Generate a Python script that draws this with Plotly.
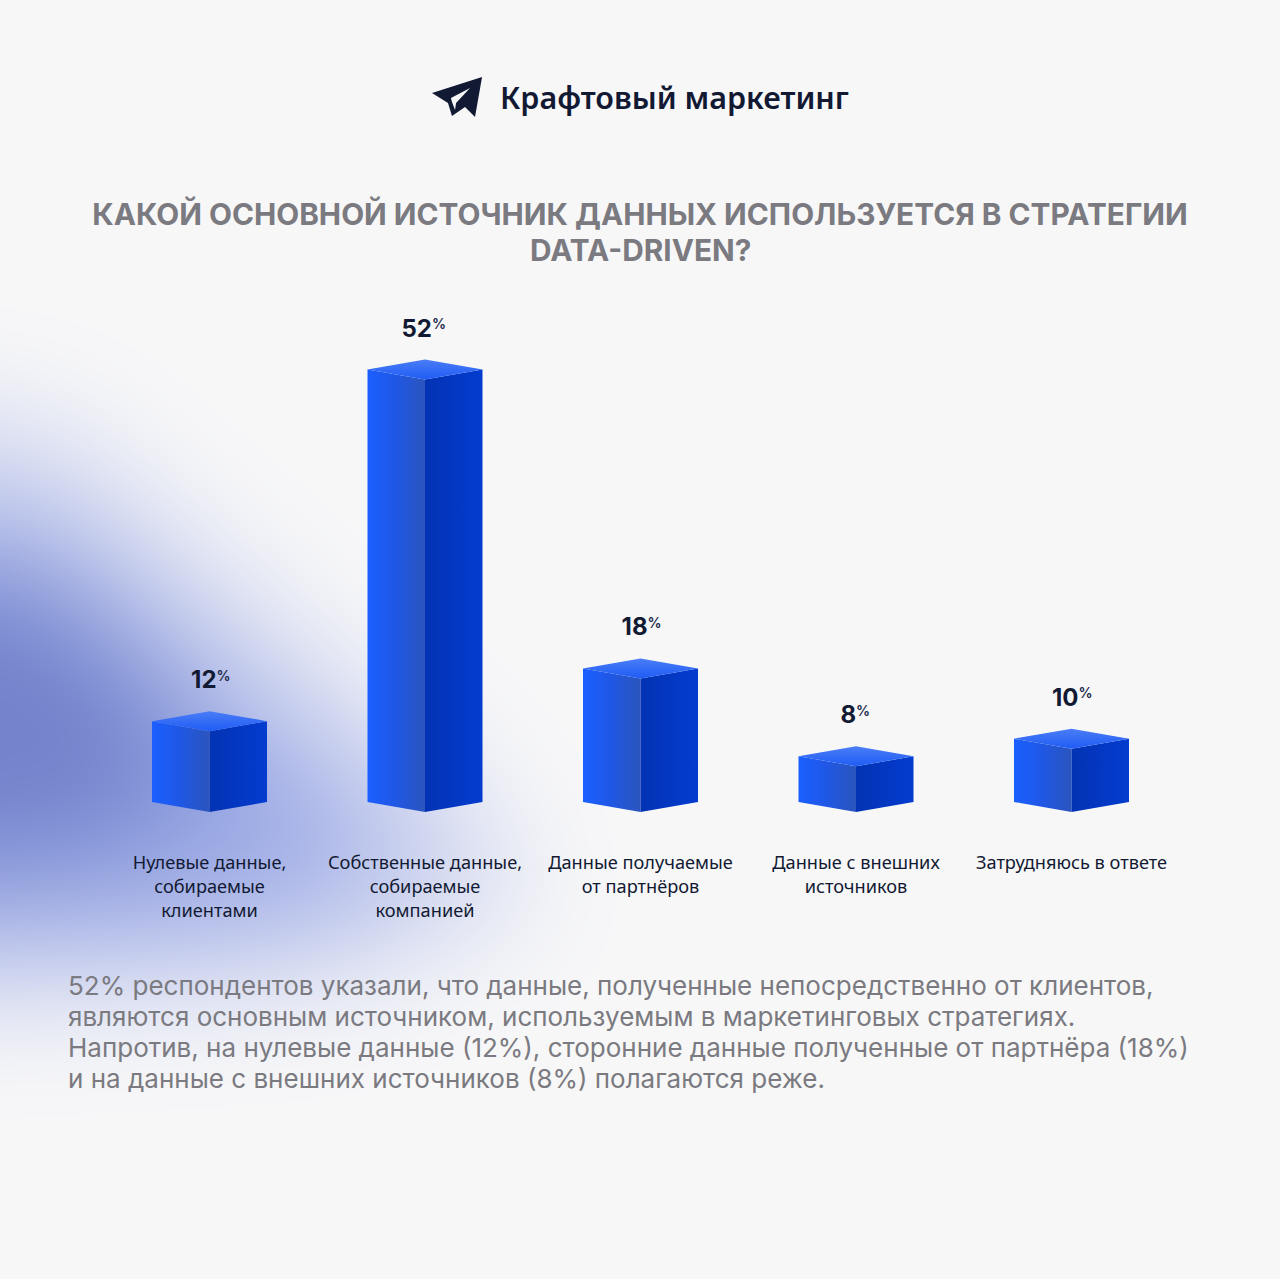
import base64
import plotly.graph_objects as go

# ---- data ----
categories = [
    "Нулевые данные,<br>собираемые<br>клиентами",
    "Собственные данные,<br>собираемые<br>компанией",
    "Данные получаемые<br>от партнёров",
    "Данные с внешних<br>источников",
    "Затрудняюсь в ответе",
]
values = [12, 52, 18, 8, 10]
title_lines = ["КАКОЙ ОСНОВНОЙ ИСТОЧНИК ДАННЫХ ИСПОЛЬЗУЕТСЯ В СТРАТЕГИИ", "DATA-DRIVEN?"]
brand = "Крафтовый маркетинг"
body_lines = [
    "52% респондентов указали, что данные, полученные непосредственно от клиентов,",
    "являются основным источником, используемым в маркетинговых стратегиях.",
    "Напротив, на нулевые данные (12%), сторонние данные полученные от партнёра (18%)",
    "и на данные с внешних источников (8%) полагаются реже.",
]

# ---- layout constants ----
W, H = 1280, 1279
BG = "#f7f7f8"
NAVY = "#121a33"
GRAY = "#7a7a80"
X0_PX, X_STEP = 209.5, 215.5      # pixel centre of first bar, spacing
Y_PX_PER_UNIT = 8.79
BASE_VALUE = 2.8                  # value at the bars' front bottom corner
FRONT_BOTTOM_PX = 812.0
PLOT_BOTTOM_PX = 842.0
HALF_W = 57.5 / X_STEP            # half bar width, x units
DEPTH = 10.0 / Y_PX_PER_UNIT      # perspective drop, y units


def px(x):
    return x / W


def py(y):
    return 1 - y / H


xr = [(0 - X0_PX) / X_STEP, (W - X0_PX) / X_STEP]
yr = [BASE_VALUE - (PLOT_BOTTOM_PX - FRONT_BOTTOM_PX) / Y_PX_PER_UNIT,
      BASE_VALUE + FRONT_BOTTOM_PX / Y_PX_PER_UNIT]

fig = go.Figure()

for i, v in enumerate(values):
    left, right = i - HALF_W, i + HALF_W
    bot = BASE_VALUE
    # left face
    fig.add_trace(go.Scatter(
        x=[left, i, i, left, left], y=[bot + DEPTH, bot, v, v + DEPTH, bot + DEPTH],
        mode="lines", line=dict(width=0), fill="toself", hoverinfo="skip", showlegend=False,
        fillgradient=dict(type="horizontal",
                          colorscale=[[0, "#1a5fff"], [0.45, "#1f58e8"], [1, "#2b55bd"]]),
    ))
    # right face
    fig.add_trace(go.Scatter(
        x=[i, right, right, i, i], y=[bot, bot + DEPTH, v + DEPTH, v, bot],
        mode="lines", line=dict(width=0), fill="toself", hoverinfo="skip", showlegend=False,
        fillgradient=dict(type="horizontal",
                          colorscale=[[0, "#0333b4"], [1, "#033ccf"]]),
    ))
    # top face
    fig.add_trace(go.Scatter(
        x=[left, i, right, i, left], y=[v + DEPTH, v, v + DEPTH, v + 2 * DEPTH, v + DEPTH],
        mode="lines", line=dict(width=0), fill="toself", hoverinfo="skip", showlegend=False,
        fillgradient=dict(type="vertical",
                          colorscale=[[0, "#1f5cf5"], [1, "#4a7df6"]]),
    ))

# value labels: the number and a small raised percent sign, centred together
label_x = [i + (len(str(v)) - 1) * 7.0 / X_STEP for i, v in enumerate(values)]
label_y = [v + 2 * DEPTH + 17 / Y_PX_PER_UNIT for v in values]
fig.add_trace(go.Scatter(
    x=label_x, y=label_y, mode="text", text=[str(v) for v in values],
    textposition="top left",
    textfont=dict(family="Inter", size=24, color=NAVY, weight=700),
    hoverinfo="skip", showlegend=False,
))
fig.add_trace(go.Scatter(
    x=label_x, y=[y + 10 / Y_PX_PER_UNIT for y in label_y], mode="text", text=["%" for _ in values],
    textposition="top right",
    textfont=dict(family="Inter", size=14, color="#1c2a4a", weight=600),
    hoverinfo="skip", showlegend=False,
))

# soft blue glow behind the chart: opaque layers blurred together
svg = f'''<svg xmlns="http://www.w3.org/2000/svg" width="{W}" height="{H}" viewBox="0 0 {W} {H}">
<defs><filter id="a" filterUnits="userSpaceOnUse" x="-400" y="-400" width="2080" height="2080" color-interpolation-filters="sRGB"><feGaussianBlur stdDeviation="58"/></filter></defs>
<g filter="url(#a)">
<rect x="-400" y="-400" width="2080" height="2080" fill="{BG}"/>
<polygon points="-300,380 60,430 280,620 460,780 530,900 340,985 0,1005 -300,1010" fill="#ced4ef"/>
<polygon points="-300,500 40,530 200,670 340,790 390,885 180,935 -300,935" fill="#9dabe6"/>
<polygon points="-300,570 50,590 170,710 190,810 50,860 -300,870" fill="#7283cc"/>
</g></svg>'''
glow = "data:image/svg+xml;base64," + base64.b64encode(svg.encode()).decode()

annotations = []
annotations.append(dict(
    xref="paper", yref="paper", x=px(640), y=py(250), text=f"<b>{title_lines[1]}</b>",
    showarrow=False, xanchor="center", yanchor="middle",
    font=dict(family="Inter", size=29.8, color=GRAY)))
annotations.append(dict(
    xref="paper", yref="paper", x=px(498), y=py(97), text=brand, showarrow=False,
    xanchor="left", yanchor="middle",
    font=dict(family="Noto Sans", size=30.5, color=NAVY, weight=600)))
for k, line in enumerate(body_lines):
    annotations.append(dict(
        xref="paper", yref="paper", x=px(66), y=py(985 + k * 31), text=line, showarrow=False,
        xanchor="left", yanchor="middle",
        font=dict(family="Inter", size=26, color=GRAY)))


def path(points):
    return "M " + " L ".join(f"{px(a):.4f},{py(b):.4f}" for a, b in points) + " Z"


plane = [(432, 93), (482, 77), (475, 117), (465, 107), (452, 116), (448, 103)]
plane_inner = [(451, 98), (470, 88), (456, 103), (455, 110), (452, 102)]

fig.update_layout(
    width=W, height=H, autosize=False,
    margin=dict(l=0, r=0, t=0, b=0),
    paper_bgcolor=BG, plot_bgcolor="rgba(0,0,0,0)",
    title=dict(text=f"<b>{title_lines[0]}</b>", x=0.5, xanchor="center", xref="paper",
               y=py(215), yanchor="middle", yref="paper",
               font=dict(family="Inter", size=29.8, color=GRAY)),
    xaxis=dict(range=xr, tickmode="array", tickvals=list(range(len(categories))),
               ticktext=categories, showgrid=False, zeroline=False, showline=False,
               ticks="", ticklabelstandoff=8,
               tickfont=dict(family="Noto Sans", size=18.2, color=NAVY), tickangle=0),
    yaxis=dict(range=yr, domain=[py(PLOT_BOTTOM_PX), 1], visible=False),
    images=[dict(source=glow, xref="paper", yref="paper", x=0, y=1, sizex=1, sizey=1,
                 xanchor="left", yanchor="top", sizing="stretch", layer="below")],
    shapes=[
        dict(type="path", xref="paper", yref="paper", path=path(plane),
             fillcolor=NAVY, line=dict(width=0)),
        dict(type="path", xref="paper", yref="paper", path=path(plane_inner),
             fillcolor=BG, line=dict(width=0)),
    ],
    annotations=annotations,
    showlegend=False,
)

fig.write_html("out.html", config={"displayModeBar": False},
               post_script="document.body.style.margin='0';document.body.style.overflow='hidden';")
